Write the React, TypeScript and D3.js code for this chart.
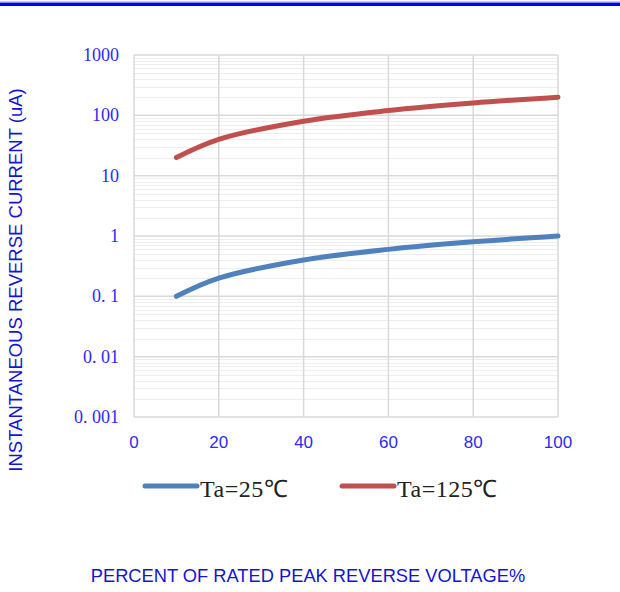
import React, { useEffect, useRef } from 'react';
import * as d3 from 'd3';

// percent of rated peak reverse voltage
const voltagePct = [10, 20, 40, 60, 80, 100];
// reverse current (uA)
const current25 = [0.1, 0.2, 0.4, 0.6, 0.8, 1.0];
const current125 = [20, 40, 80, 120, 160, 200];

const xTicks = [0, 20, 40, 60, 80, 100];
const yTicks = [0.001, 0.01, 0.1, 1, 10, 100, 1000];

const seriesNames = ['Ta=25\u2103', 'Ta=125\u2103'];
const seriesColors = ['#4f81bd', '#c0504d'];

const margin = { top: 55, right: 62, bottom: 175, left: 134 };
const W = 620, H = 592;
const width = W - margin.left - margin.right;
const height = H - margin.top - margin.bottom;

const fmtY = (d: number) => String(d).replace('.', '. ');

const App = () => {
  const ref = useRef<SVGSVGElement>(null);

  useEffect(() => {
    const svg = d3.select(ref.current);
    svg.selectAll('*').remove();

    // blue rule across the top
    svg.append('rect').attr('x', 0).attr('y', 1.5).attr('width', W).attr('height', 1.5).attr('fill', '#8a8aff');
    svg.append('rect').attr('x', 0).attr('y', 3).attr('width', W).attr('height', 3).attr('fill', '#0000e6');

    const g = svg.append('g').attr('transform', `translate(${margin.left},${margin.top})`);

    const x = d3.scaleLinear().domain([0, 100]).range([0, width]);
    const y = d3.scaleLog().domain([0.001, 1000]).range([height, 0]);

    // minor grid
    const minors: number[] = [];
    for (let e = -3; e < 3; e++) {
      for (let m = 2; m <= 9; m++) minors.push(m * Math.pow(10, e));
    }
    g.selectAll('.minor')
      .data(minors)
      .join('line')
      .attr('x1', 0).attr('x2', width)
      .attr('y1', d => Math.round(y(d)) + 0.5).attr('y2', d => Math.round(y(d)) + 0.5)
      .attr('stroke', '#eeeeee').attr('stroke-width', 1);

    // major grid
    g.selectAll('.hmajor')
      .data(yTicks)
      .join('line')
      .attr('x1', 0).attr('x2', width)
      .attr('y1', d => y(d)).attr('y2', d => y(d))
      .attr('stroke', '#d9d9d9').attr('stroke-width', 1.5);
    g.selectAll('.vmajor')
      .data(xTicks)
      .join('line')
      .attr('x1', d => x(d)).attr('x2', d => x(d))
      .attr('y1', 0).attr('y2', height)
      .attr('stroke', '#d9d9d9').attr('stroke-width', 1.5);

    // y tick labels
    g.selectAll('.ylab')
      .data(yTicks)
      .join('text')
      .attr('x', -15).attr('y', d => y(d) + 6)
      .attr('text-anchor', 'end')
      .style('font-family', '"Liberation Serif", serif')
      .style('font-size', '18px')
      .attr('fill', '#2b2bff')
      .text(d => fmtY(d));

    // x tick labels
    g.selectAll('.xlab')
      .data(xTicks)
      .join('text')
      .attr('x', d => x(d)).attr('y', height + 31)
      .attr('text-anchor', 'middle')
      .style('font-family', '"Liberation Sans", Arial, sans-serif')
      .style('font-size', '17px')
      .attr('fill', '#2b2bff')
      .text(d => d);

    const line = d3.line<[number, number]>()
      .x(d => x(d[0]))
      .y(d => y(d[1]))
      .curve(d3.curveCatmullRom.alpha(0.5));

    [current25, current125].forEach((vals, i) => {
      g.append('path')
        .datum(voltagePct.map((v, j) => [v, vals[j]] as [number, number]))
        .attr('d', line)
        .attr('fill', 'none')
        .attr('stroke', seriesColors[i])
        .attr('stroke-width', 5)
        .attr('stroke-linecap', 'round');
    });

    // legend
    const legendX = [145, 342];
    seriesNames.forEach((name, i) => {
      const lg = svg.append('g').attr('transform', `translate(${legendX[i]},486)`);
      lg.append('line').attr('x1', 0).attr('x2', 52).attr('y1', 0).attr('y2', 0)
        .attr('stroke', seriesColors[i]).attr('stroke-width', 5).attr('stroke-linecap', 'round');
      lg.append('text').attr('x', 55).attr('y', 11)
        .style('font-family', '"Liberation Serif", serif')
        .style('font-size', '24px')
        .style('letter-spacing', '0.5px')
        .attr('fill', '#222')
        .text(name);
    });

    // axis titles
    svg.append('text')
      .attr('x', 308).attr('y', 582)
      .attr('text-anchor', 'middle')
      .style('font-family', '"Liberation Sans", Arial, sans-serif')
      .style('font-size', '18.3px')
      .attr('fill', '#1414d4')
      .text('PERCENT OF RATED PEAK REVERSE VOLTAGE%');

    svg.append('text')
      .attr('transform', 'translate(22,280) rotate(-90)')
      .attr('text-anchor', 'middle')
      .style('font-family', '"Liberation Sans", Arial, sans-serif')
      .style('font-size', '18.5px')
      .attr('fill', '#1414d4')
      .text('INSTANTANEOUS REVERSE CURRENT (uA)');
  }, []);

  return (
    <svg ref={ref} width={W} height={H} style={{ position: 'absolute', left: 0, top: 0, background: '#fff' }} />
  );
};

export default App;
